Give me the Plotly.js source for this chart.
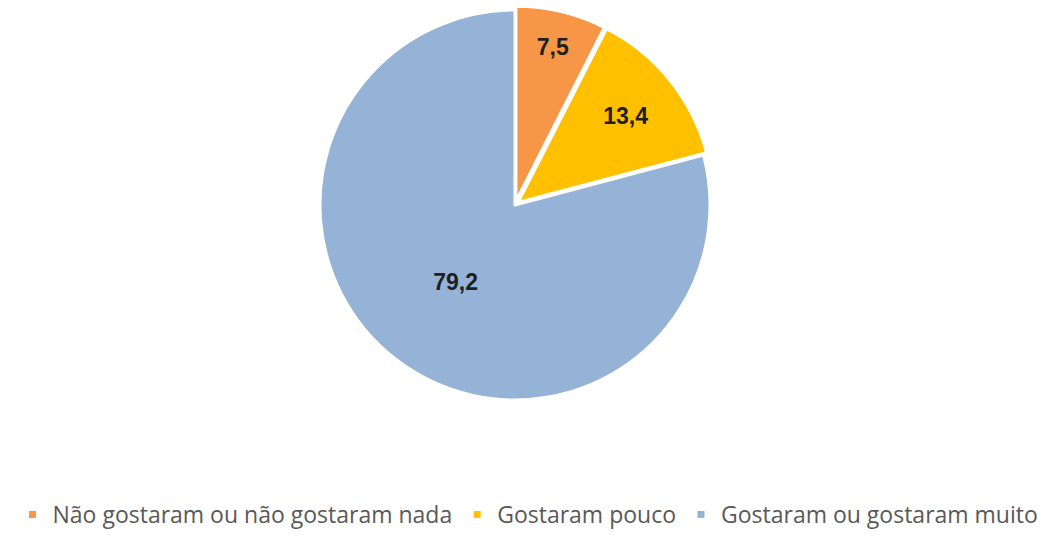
<!DOCTYPE html>
<html>
<head>
<meta charset="utf-8">
<script src="https://cdn.plot.ly/plotly-3.0.1.min.js"></script>
<style>html,body{margin:0;padding:0;background:#fff;}#chart{width:1056px;height:536px;}</style>
</head>
<body>
<div id="chart"></div>
<script>
const categories = ["Não gostaram ou não gostaram nada", "Gostaram pouco", "Gostaram ou gostaram muito"];
const values = [7.5, 13.4, 79.2];
const colors = ["#F79646", "#FFC000", "#95B3D7"];

const R = 195 * 1.02;
const cx = 515, cy = 205, W = 1056, H = 536;

const trace = {
  type: "pie",
  labels: categories,
  values: values,
  sort: false,
  direction: "clockwise",
  rotation: 0,
  pull: [0.02, 0.02, 0],
  marker: {colors: colors, line: {color: "#ffffff", width: 3}},
  textinfo: "value",
  textposition: "inside",
  insidetextorientation: "horizontal",
  textfont: {family: "Liberation Sans, Arial, sans-serif", size: 23, color: "#1f1f1f", weight: "bold"},
  hoverinfo: "label+value",
  domain: {x: [(cx - R) / W, (cx + R) / W], y: [(H - cy - R) / H, (H - cy + R) / H]}
};

const layout = {
  width: W, height: H,
  margin: {l: 0, r: 0, t: 0, b: 0},
  separators: ",.",
  paper_bgcolor: "#ffffff",
  showlegend: true,
  legend: {
    orientation: "h",
    x: 0.5, xanchor: "center",
    y: 0.0, yanchor: "bottom",
    font: {family: "Open Sans, sans-serif", size: 23, color: "#595959"},
    itemgap: 0,
    traceorder: "normal"
  }
};

function shrinkMarkers() {
  document.querySelectorAll("#chart .legendpoints path").forEach(p => {
    p.setAttribute("d", "M3.5,3.5H-3.5V-3.5H3.5Z");
    p.style.strokeWidth = "0px";
  });
}

Plotly.newPlot("chart", [trace], layout, {displayModeBar: false}).then(gd => {
  shrinkMarkers();
  gd.on("plotly_afterplot", shrinkMarkers);
});
</script>
</body>
</html>
